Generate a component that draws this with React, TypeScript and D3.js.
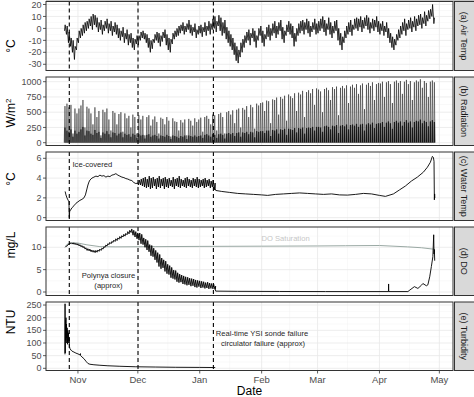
import React from 'react';
import * as d3 from 'd3';

// ---------------- data ----------------
// daily series start on this date (one value per day)
const dailyStart = '2018-10-25';

// (a) Air temperature, daily min / max, Oct 25 – Apr 28
const airTempMin = [
  -2, -5, -12, -15, -20, -26, -18,
  -12, -8, -6, -4, -2, 0, 2, -1, 3, 1, -3, -1, -5, -2, 0, -4, -2, -6, -3, -5, -8, -10, -7, -12, -9, -14, -12, -16, -18, -13,
  -14, -10, -8, -9, -12, -16, -20, -17, -12, -10, -12, -15, -11, -8, -14, -18, -20, -13, -9, -7, -6, -4, -2, -5, -3, -1, -4, -6, -3, -8, -5,
  -4, -7, -3, -6, -2, -5, -1, 0, -3, 2, -2, -6, -4, -9, -12, -15, -18, -22, -27, -29, -24, -20, -16, -12, -10, -14, -8, -11, -16, -10, -6,
  -12, -15, -9, -7, -10, -6, -4, -8, -5, -2, -9, -12, -6, -3, -5, -8, -15, -11, -6, -4, -2, -5, -1, -4, -7, -3, -1, -5,
  -4, -2, 0, -3, -6, -1, -5, -8, -4, -2, -10, -14, -18, -12, -8, -5, -3, -6, -1, 0, -2, 1, -3, 0, 2, -1, -4, 0, -2, 1, -3,
  -5, -2, -6, -3, -8, -12, -16, -18, -14, -10, -8, -5, -2, -6, -1, 0, -3, 1, -2, 2, 3, 0, 4, 2, 6, 8, 10, 4,
];
const airTempMax = [
  3, 2, -3, -8, -10, -15, -8,
  -2, 0, 3, 5, 6, 8, 10, 12, 11, 9, 5, 7, 3, 6, 8, 4, 6, 2, 5, 3, 0, -2, 1, -4, -1, -5, -4, -8, -9, -6,
  -6, -3, -2, -4, -5, -8, -10, -9, -5, -3, -4, -6, -3, -1, -5, -8, -9, -4, -2, 0, 2, 3, 5, 2, 4, 7, 3, 1, 4, -1, 2,
  3, 1, 5, 2, 6, 4, 8, 10, 6, 11, 9, 5, 7, 1, -2, -5, -8, -12, -15, -18, -12, -9, -6, -3, -1, -4, 0, -2, -6, 0, 2,
  -2, -5, 1, 3, 0, 4, 6, 2, 5, 7, 1, -2, 3, 6, 4, 2, -4, 0, 4, 6, 7, 5, 8, 6, 2, 5, 8, 4,
  6, 8, 10, 7, 4, 9, 5, 2, 6, 7, 0, -4, -7, -2, 2, 5, 7, 3, 8, 9, 8, 10, 7, 9, 11, 9, 5, 8, 7, 10, 6,
  4, 6, 2, 5, 0, -4, -7, -9, -5, -1, 2, 5, 8, 4, 7, 9, 6, 10, 8, 11, 12, 9, 14, 11, 15, 16, 20, 9,
];

// (b) Radiation, daily peak and dense low part (W/m2), Oct 25 – Apr 28
const radiationPeak = [
  600, 640, 580, 620, 150, 560, 480,
  560, 610, 700, 250, 590, 560, 480, 300, 580, 420, 520, 120, 540, 500, 560, 380, 200, 520, 490, 300, 470, 500, 180, 480, 400, 440, 250, 460, 420, 150,
  450, 380, 440, 120, 420, 450, 280, 380, 430, 340, 150, 410, 390, 300, 420, 360, 100, 400, 350, 340, 200, 370, 330, 380, 120, 390, 360, 280, 400, 340, 380,
  410, 180, 420, 440, 390, 300, 460, 450, 200, 470, 490, 420, 150, 500, 520, 460, 530, 320, 540, 560, 250, 570, 540, 600, 420, 620, 580, 230, 640, 610, 650,
  660, 520, 690, 680, 320, 710, 700, 740, 460, 750, 720, 770, 360, 790, 760, 730, 810, 520, 820, 790, 850, 420, 830, 860, 810, 880, 620, 890,
  870, 840, 500, 880, 900, 860, 700, 910, 880, 920, 450, 900, 930, 890, 940, 650, 920, 950, 900, 960, 800, 940, 970, 550, 950, 980, 930, 990, 700, 960, 980,
  970, 1000, 750, 990, 1010, 960, 650, 1000, 1020, 980, 1010, 800, 1000, 1030, 960, 1010, 700, 990, 1020, 1000, 1040, 900, 1010, 980, 750, 1000, 1020, 990,
];
const radiationBase = [
  250, 200, 180, 220, 100, 200, 150,
  180, 220, 260, 120, 200, 190, 150, 130, 210, 160, 180, 80, 170, 150, 190, 140, 90, 170, 160, 120, 150, 170, 90, 150, 130, 140, 100, 150, 130, 80,
  140, 120, 130, 70, 130, 140, 100, 120, 130, 110, 70, 120, 110, 100, 130, 110, 60, 120, 110, 100, 80, 110, 100, 120, 60, 120, 110, 100, 120, 100, 110,
  120, 80, 130, 140, 120, 100, 140, 130, 80, 140, 150, 130, 70, 150, 160, 140, 160, 110, 160, 170, 100, 170, 160, 180, 140, 180, 170, 90, 190, 180, 190,
  190, 160, 200, 200, 110, 210, 200, 220, 150, 220, 210, 230, 130, 230, 220, 210, 240, 170, 240, 230, 250, 150, 240, 250, 240, 260, 200, 260,
  260, 250, 180, 270, 280, 260, 220, 280, 270, 290, 160, 280, 290, 270, 300, 220, 290, 300, 280, 310, 260, 300, 310, 200, 300, 320, 300, 330, 240, 310, 320,
  320, 340, 260, 330, 350, 320, 230, 340, 360, 330, 350, 280, 340, 370, 330, 350, 250, 340, 360, 350, 380, 320, 360, 340, 270, 350, 370, 340,
];

// (c) Water temperature
const waterRiseTimes = [
  '2018-10-25T14:00', '2018-10-26T00:00', '2018-10-26T12:00', '2018-10-27T06:00', '2018-10-27T12:00', '2018-10-27T16:00',
  '2018-10-27T20:00', '2018-10-28T06:00', '2018-10-29T00:00', '2018-10-30T00:00', '2018-10-31T00:00', '2018-11-01T00:00',
  '2018-11-02T00:00', '2018-11-03T00:00', '2018-11-04T00:00', '2018-11-04T18:00', '2018-11-05T12:00', '2018-11-06T00:00',
  '2018-11-06T12:00', '2018-11-07T00:00', '2018-11-08T00:00', '2018-11-09T00:00', '2018-11-10T00:00', '2018-11-11T00:00',
  '2018-11-12T00:00', '2018-11-13T00:00', '2018-11-14T00:00', '2018-11-15T00:00', '2018-11-16T00:00', '2018-11-17T00:00',
  '2018-11-18T00:00', '2018-11-19T00:00', '2018-11-20T00:00', '2018-11-21T00:00', '2018-11-22T00:00', '2018-11-23T00:00',
  '2018-11-24T00:00', '2018-11-25T00:00', '2018-11-26T00:00', '2018-11-27T00:00', '2018-11-28T00:00', '2018-11-29T00:00',
  '2018-11-30T00:00', '2018-12-01T00:00',
];
const waterRiseValues = [
  2.65, 2.3, 2.0, 1.7, 1.6, 0.0,
  0.6, 0.75, 1.0, 1.2, 1.45, 1.6,
  1.75, 1.85, 2.0, 2.3, 2.9, 3.3,
  3.6, 3.8, 4.0, 4.1, 4.2, 4.15,
  4.3, 4.2, 4.25, 4.1, 4.2, 4.15,
  4.3, 4.35, 4.45, 4.3, 4.2, 4.1,
  4.05, 3.95, 3.9, 3.8, 3.75, 3.55,
  3.45, 3.5,
];
const waterNoisyStart = '2018-12-01';
const waterNoisyLo = [
  3.3, 3.3, 3.2, 3.1, 3.0, 3.1, 2.9, 3.0, 3.2, 2.9, 3.1, 3.0, 3.2, 2.9, 3.1, 3.0, 3.2, 3.1, 2.9, 3.2,
  3.1, 3.0, 3.2, 3.1, 3.0, 3.2, 3.1, 3.0, 3.2, 3.1, 3.0, 3.1, 3.2, 3.0, 3.1, 3.2, 3.0, 3.1, 2.8,
];
const waterNoisyHi = [
  3.8, 3.9, 4.0, 4.1, 3.9, 4.2, 4.0, 4.1, 3.9, 4.0, 4.2, 3.9, 4.0, 4.1, 3.9, 4.0, 3.8, 4.1, 3.9, 4.0,
  4.2, 3.9, 3.8, 4.0, 4.1, 3.9, 3.8, 4.0, 3.9, 4.1, 3.9, 3.8, 3.9, 4.0, 3.8, 3.9, 3.7, 3.8, 3.5,
];
const waterLateTimes = [
  '2019-01-08T18:00', '2019-01-09T00:00', '2019-01-12T00:00', '2019-01-16T00:00', '2019-01-20T00:00', '2019-01-24T00:00',
  '2019-01-28T00:00', '2019-02-01T00:00', '2019-02-04T00:00', '2019-02-08T00:00', '2019-02-12T00:00', '2019-02-16T00:00',
  '2019-02-20T00:00', '2019-02-24T00:00', '2019-02-28T00:00', '2019-03-04T00:00', '2019-03-08T00:00', '2019-03-12T00:00',
  '2019-03-16T00:00', '2019-03-20T00:00', '2019-03-24T00:00', '2019-03-28T00:00', '2019-04-01T00:00', '2019-04-04T00:00',
  '2019-04-08T00:00', '2019-04-11T00:00', '2019-04-14T00:00', '2019-04-17T00:00', '2019-04-20T00:00', '2019-04-23T00:00',
  '2019-04-25T00:00', '2019-04-26T12:00', '2019-04-27T12:00', '2019-04-28T00:00', '2019-04-28T08:00', '2019-04-28T12:00',
  '2019-04-28T15:00', '2019-04-28T18:00',
];
const waterLateValues = [
  2.9, 2.75, 2.65, 2.55, 2.45, 2.4,
  2.35, 2.3, 2.25, 2.35, 2.4, 2.45,
  2.5, 2.45, 2.4, 2.35, 2.4, 2.3,
  2.28, 2.35, 2.45, 2.4, 2.25, 2.15,
  2.4, 2.8, 3.2, 3.7, 4.1, 4.6,
  5.1, 5.6, 6.2, 6.1, 5.7, 1.8,
  2.4, 2.0,
];

// (d) Dissolved oxygen, daily low / high Oct 25 – Jan 8
const doLo = [
  10.0, 10.3, 10.7, 10.8, 10.7, 10.6, 10.5,
  10.3, 10.1, 9.9, 9.6, 9.3, 9.2, 9.0, 8.9, 8.8, 8.9, 9.1, 9.3, 9.6, 10.0, 10.3, 10.6, 10.8, 11.1, 11.3, 11.5,
  11.8, 12.0, 12.3, 12.5, 12.8, 13.0, 13.3, 12.7, 12.3, 11.9,
  11.6, 10.8, 10.6, 10.0, 9.4, 9.0, 8.1, 7.9, 7.2, 6.6, 5.7, 5.2, 5.4, 4.6, 4.1, 3.9, 3.2, 3.0, 2.8, 2.3,
  2.1, 2.2, 1.8, 1.7, 1.5, 1.6, 1.3, 1.4, 1.1, 1.0, 1.2,
  0.9, 1.0, 0.8, 0.9, 0.7, 0.8, 0.7, 0.6,
];
const doHi = [
  10.2, 10.6, 11.0, 11.0, 11.0, 10.9, 10.8,
  10.6, 10.4, 10.2, 9.9, 9.7, 9.6, 9.4, 9.3, 9.3, 9.4, 9.6, 9.8, 10.1, 10.5, 10.8, 11.1, 11.3, 11.6, 11.9, 12.1,
  12.4, 12.6, 12.9, 13.1, 13.5, 13.8, 14.1, 13.8, 13.5, 13.2,
  13.2, 12.9, 12.1, 11.8, 11.5, 10.6, 10.4, 9.8, 9.3, 8.8, 8.4, 7.6, 7.2, 6.9, 6.2, 5.9, 5.5, 4.9, 4.8, 4.3,
  4.0, 3.8, 3.6, 3.4, 3.3, 3.1, 3.0, 2.9, 2.7, 2.6, 2.5,
  2.4, 2.3, 2.1, 2.2, 2.0, 1.9, 1.8, 1.3,
];
const doLateTimes = [
  '2019-01-08T20:00', '2019-01-09T00:00', '2019-01-20T00:00', '2019-02-10T00:00', '2019-03-05T00:00', '2019-04-05T12:00',
  '2019-04-05T14:00', '2019-04-05T16:00', '2019-04-15T06:00', '2019-04-16T06:00', '2019-04-18T12:00', '2019-04-20T06:00',
  '2019-04-22T00:00', '2019-04-22T18:00', '2019-04-24T12:00', '2019-04-25T06:00', '2019-04-26T04:00', '2019-04-27T00:00',
  '2019-04-27T18:00', '2019-04-28T04:00', '2019-04-28T08:00', '2019-04-28T12:00', '2019-04-28T16:00',
];
const doLateValues = [
  0.5, 0.2, 0.15, 0.12, 0.1, 0.1,
  1.8, 0.1, 0.1, 0.45, 1.2, 0.8,
  1.5, 1.9, 1.4, 1.6, 3.4, 5.7,
  7.9, 12.8, 8.5, 9.5, 7.0,
];
const doSatTimes = [
  '2018-10-25T14:00', '2018-10-27T00:00', '2018-10-29T00:00', '2018-11-01T00:00', '2018-11-05T12:00', '2018-11-12T00:00',
  '2018-11-20T00:00', '2018-12-10T00:00', '2019-01-01T00:00', '2019-02-01T00:00', '2019-03-01T00:00', '2019-03-15T00:00',
  '2019-04-01T00:00', '2019-04-15T00:00', '2019-04-22T00:00', '2019-04-28T16:00',
];
const doSatValues = [
  10.2, 10.8, 11.0, 10.95, 10.55, 10.15,
  10.1, 10.15, 10.2, 10.25, 10.3, 10.35,
  10.4, 10.1, 9.9, 9.55,
];

// (e) Turbidity (NTU)
const turbTimes = [
  '2018-10-25T12:00', '2018-10-25T13:00', '2018-10-25T15:00', '2018-10-25T18:00', '2018-10-25T21:00', '2018-10-26T00:00',
  '2018-10-26T03:00', '2018-10-26T06:00', '2018-10-26T10:00', '2018-10-26T14:00', '2018-10-26T18:00', '2018-10-26T22:00',
  '2018-10-27T02:00', '2018-10-27T06:00', '2018-10-27T10:00', '2018-10-27T14:00', '2018-10-27T18:00', '2018-10-28T00:00',
  '2018-10-28T12:00', '2018-10-29T00:00', '2018-10-30T00:00', '2018-10-31T00:00', '2018-11-01T00:00', '2018-11-02T00:00',
  '2018-11-02T06:00', '2018-11-02T08:00', '2018-11-03T00:00', '2018-11-04T00:00', '2018-11-05T00:00', '2018-11-06T00:00',
  '2018-11-07T00:00', '2018-11-09T00:00', '2018-11-12T00:00', '2018-11-16T00:00', '2018-11-22T00:00', '2018-11-30T00:00',
  '2018-12-10T00:00', '2018-12-20T00:00', '2019-01-01T00:00', '2019-01-08T18:00',
];
const turbValues = [
  55, 255, 60, 190, 110, 200,
  120, 175, 100, 160, 95, 150,
  110, 140, 100, 120, 85, 78,
  72, 68, 64, 60, 57, 53,
  58, 50, 45, 38, 28, 19,
  16, 14, 12, 10, 8, 6,
  5, 4, 3.5, 3,
];

// events (dashed lines) and axes
const eventTimes = ['2018-10-27T16:00', '2018-12-01T02:00', '2019-01-07T20:00'];
const monthTicks = ['2018-11-01', '2018-12-01', '2019-01-01', '2019-02-01', '2019-03-01', '2019-04-01', '2019-05-01'];
const monthLabels = ['Nov', 'Dec', 'Jan', 'Feb', 'Mar', 'Apr', 'May'];
const monthMinor = ['2018-10-16', '2018-11-16', '2018-12-16', '2019-01-16', '2019-02-15', '2019-03-16', '2019-04-16'];
const airTicks = [-30, -20, -10, 0, 10, 20];
const radTicks = [0, 250, 500, 750, 1000];
const waterTicks = [0, 2, 4, 6];
const doTicks = [0, 5, 10];
const turbTicks = [0, 50, 100, 150, 200, 250];
const stripLabels = ['(a) Air Temp', '(b) Radiation', '(c) Water Temp', '(d) DO', '(e) Turbidity'];

// ---------------- helpers ----------------
const DAY = 864e5;
const parseT = (s: string) => new Date(s.length === 10 ? s + 'T00:00:00Z' : s + ':00Z');
const startMs = parseT(dailyStart).getTime();
type Pt = [Date, number];
const dayPt = (base: number, i: number, f: number, v: number): Pt => [new Date(base + (i + f) * DAY), v];
const zip = (ts: string[], vs: number[]): Pt[] => ts.map((t, i) => [parseT(t), vs[i]]);
const zigzag = (base: number, lo: number[], hi: number[], fLo: number, fHi: number): Pt[] => {
  const out: Pt[] = [];
  lo.forEach((v, i) => {
    out.push(dayPt(base, i, fLo, v));
    out.push(dayPt(base, i, fHi, hi[i]));
  });
  return out;
};

const FONT = '"Liberation Sans", Arial, Helvetica, sans-serif';
const PL = 46, PR = 453;
const SL = 454.5, SR = 475;

export default function App() {
  const x = d3.scaleUtc()
    .domain([parseT('2018-10-16'), parseT('2019-05-07T20:00')])
    .range([PL, PR]);

  const layout = [
    { top: 1.5, bottom: 70.5, domain: [-35.2, 22.5], ticks: airTicks, ylabY: 46 },
    { top: 77, bottom: 145.5, domain: [-46, 1077], ticks: radTicks, ylabY: 113 },
    { top: 152, bottom: 220.5, domain: [-0.29, 6.64], ticks: waterTicks, ylabY: 179 },
    { top: 227, bottom: 295.5, domain: [-0.78, 14.54], ticks: doTicks, ylabY: 245 },
    { top: 302, bottom: 370.5, domain: [-8.7, 262], ticks: turbTicks, ylabY: 322 },
  ];
  const ys = layout.map(p => d3.scaleLinear().domain(p.domain).range([p.bottom, p.top]));

  const mkLine = (y: d3.ScaleLinear<number, number>) =>
    d3.line<Pt>().x(d => x(d[0])).y(d => y(d[1]));

  // series
  const airPts = zigzag(startMs, airTempMin, airTempMax, 0.25, 0.6);
  const radPts: Pt[] = [];
  radiationPeak.forEach((p, i) => {
    radPts.push(dayPt(startMs, i, 0.1, 0));
    radPts.push(dayPt(startMs, i, 0.3, radiationBase[i]));
    radPts.push(dayPt(startMs, i, 0.5, p));
    radPts.push(dayPt(startMs, i, 0.7, radiationBase[i]));
    radPts.push(dayPt(startMs, i, 0.9, 0));
  });
  const waterPts: Pt[] = [
    ...zip(waterRiseTimes, waterRiseValues),
    ...zigzag(parseT(waterNoisyStart).getTime(), waterNoisyLo, waterNoisyHi, 0.3, 0.7),
    ...zip(waterLateTimes, waterLateValues),
  ];
  const doPts: Pt[] = [
    ...zigzag(startMs, doLo, doHi, 0.6, 0.95).slice(0),
    ...zip(doLateTimes, doLateValues),
  ];
  const satPts = zip(doSatTimes, doSatValues);
  const turbPts = zip(turbTimes, turbValues);

  const minorY = (ticks: number[], dom: number[]) => {
    const step = ticks[1] - ticks[0];
    const res: number[] = [];
    for (let i = -1; i < ticks.length; i++) {
      const v = ticks[0] + step * (i + 0.5);
      if (v > dom[0] && v < dom[1]) res.push(v);
    }
    return res;
  };

  const annText = { fontFamily: FONT, fontSize: 7.6, fill: '#262626' } as const;

  return (
    <svg width={474} height={397} style={{ position: 'absolute', left: 0, top: 0, background: '#fff' }}
      xmlns="http://www.w3.org/2000/svg">
      <defs>
        {layout.map((p, k) => (
          <clipPath id={`clip${k}`} key={k}>
            <rect x={PL} y={p.top} width={PR - PL} height={p.bottom - p.top} />
          </clipPath>
        ))}
      </defs>
      <rect x={0} y={0} width={474} height={397} fill="#fff" />
      <rect x={PL} y={0} width={SR - PL} height={1.5} fill="#c4c4c4" />
      {layout.map((p, k) => {
        const y = ys[k];
        const line = mkLine(y);
        return (
          <g key={k}>
            <rect x={PL} y={p.top} width={PR - PL} height={p.bottom - p.top} fill="#fff" />
            {/* minor grid */}
            {minorY(p.ticks, p.domain).map(v => (
              <line key={'my' + v} x1={PL} x2={PR} y1={y(v)} y2={y(v)} stroke="#f2f2f2" strokeWidth={0.5} />
            ))}
            {monthMinor.map(t => (
              <line key={'mx' + t} x1={x(parseT(t))} x2={x(parseT(t))} y1={p.top} y2={p.bottom} stroke="#f2f2f2" strokeWidth={0.5} />
            ))}
            {/* major grid */}
            {p.ticks.map(v => (
              <line key={'gy' + v} x1={PL} x2={PR} y1={y(v)} y2={y(v)} stroke="#e8e8e8" strokeWidth={0.8} />
            ))}
            {monthTicks.map(t => (
              <line key={'gx' + t} x1={x(parseT(t))} x2={x(parseT(t))} y1={p.top} y2={p.bottom} stroke="#e8e8e8" strokeWidth={0.8} />
            ))}
            <g clipPath={`url(#clip${k})`}>
              {k === 0 && <path d={line(airPts) || ''} fill="none" stroke="#000" strokeWidth={0.8} />}
              {k === 1 && (
                <g>
                  {radiationBase.map((b, i) => (
                    <rect key={i}
                      x={x(dayPt(startMs, i, 0.2, 0)[0])}
                      width={x(dayPt(startMs, i, 0.8, 0)[0]) - x(dayPt(startMs, i, 0.2, 0)[0])}
                      y={y(b)} height={y(0) - y(b)} fill="#111" />
                  ))}
                  <path d={line(radPts) || ''} fill="none" stroke="#222" strokeWidth={0.55} />
                </g>
              )}
              {k === 2 && <path d={line(waterPts) || ''} fill="none" stroke="#000" strokeWidth={0.9} />}
              {k === 3 && (
                <g>
                  <path d={line(satPts) || ''} fill="none" stroke="#9aa9a4" strokeWidth={1} />
                  <path d={line(doPts) || ''} fill="none" stroke="#000" strokeWidth={0.9} />
                </g>
              )}
              {k === 4 && <path d={line(turbPts) || ''} fill="none" stroke="#000" strokeWidth={0.9} />}
              {eventTimes.map(t => (
                <line key={'ev' + t} x1={x(parseT(t))} x2={x(parseT(t))} y1={p.top} y2={p.bottom}
                  stroke="#000" strokeWidth={1.1} strokeDasharray="4,3" />
              ))}
            </g>
            {/* border */}
            <rect x={PL} y={p.top} width={PR - PL} height={p.bottom - p.top} fill="none" stroke="#333" strokeWidth={1} />
            {/* y ticks */}
            {p.ticks.map(v => (
              <g key={'t' + v}>
                <line x1={PL - 3} x2={PL} y1={y(v)} y2={y(v)} stroke="#333" strokeWidth={0.8} />
                <text x={PL - 4.5} y={y(v)} dy="0.35em" textAnchor="end" fontFamily={FONT} fontSize={9} fill="#4d4d4d">{v}</text>
              </g>
            ))}
            {/* strip */}
            <rect x={SL} y={p.top} width={SR - SL} height={p.bottom - p.top} fill="#d9d9d9" stroke="#333" strokeWidth={1} />
            <text transform={`translate(${(SL + SR) / 2 - 0.5},${(p.top + p.bottom) / 2}) rotate(90)`}
              textAnchor="middle" dy="0.35em" fontFamily={FONT} fontSize={9} fill="#1a1a1a">{stripLabels[k]}</text>
          </g>
        );
      })}

      {/* y axis titles */}
      <g fontFamily={FONT} fontSize={12} fill="#000">
        <text transform={`translate(15,${layout[0].ylabY}) rotate(-90)`} textAnchor="middle">°C</text>
        <text transform={`translate(15,${layout[1].ylabY}) rotate(-90)`} textAnchor="middle">W/m<tspan dy={-4} fontSize={8}>2</tspan></text>
        <text transform={`translate(15,${layout[2].ylabY}) rotate(-90)`} textAnchor="middle">°C</text>
        <text transform={`translate(15,${layout[3].ylabY}) rotate(-90)`} textAnchor="middle">mg/L</text>
        <text transform={`translate(15,${layout[4].ylabY}) rotate(-90)`} textAnchor="middle">NTU</text>
      </g>

      {/* x axis */}
      {monthTicks.map((t, i) => (
        <g key={'xt' + t}>
          <line x1={x(parseT(t))} x2={x(parseT(t))} y1={370.5} y2={373.5} stroke="#333" strokeWidth={0.8} />
          <text x={x(parseT(t))} y={383} textAnchor="middle" fontFamily={FONT} fontSize={9.5} fill="#4d4d4d">{monthLabels[i]}</text>
        </g>
      ))}
      <text x={(PL + PR) / 2} y={395} textAnchor="middle" fontFamily={FONT} fontSize={12} fill="#000">Date</text>

      {/* annotations */}
      <text x={72.5} y={167} {...annText}>Ice-covered</text>
      <text x={ys[3] ? 261.5 : 0} y={240.5} fontFamily={FONT} fontSize={7.6} fill="#c6c6c6">DO Saturation</text>
      <text x={108.5} y={277.5} textAnchor="middle" {...annText}>Polynya closure</text>
      <text x={108.5} y={288} textAnchor="middle" {...annText}>(approx)</text>
      <text x={262} y={335.5} textAnchor="middle" {...annText}>Real-time YSI sonde failure</text>
      <text x={263} y={346} textAnchor="middle" {...annText}>circulator failure (approx)</text>
    </svg>
  );
}
